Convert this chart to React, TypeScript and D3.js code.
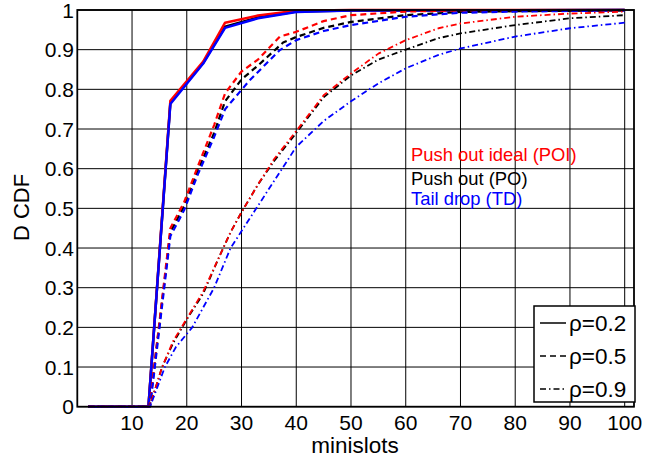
import React from "react";
import * as d3 from "d3";

const xTicks = [10, 20, 30, 40, 50, 60, 70, 80, 90, 100];
const yTicks = [0, 0.1, 0.2, 0.3, 0.4, 0.5, 0.6, 0.7, 0.8, 0.9, 1];
const yTickLabels = ["0", "0.1", "0.2", "0.3", "0.4", "0.5", "0.6", "0.7", "0.8", "0.9", "1"];

// rho = 0.2 (solid)
const poiR02: [number, number][] = [[2, 0], [13, 0], [17, 0.771], [23, 0.87], [27, 0.968], [33, 0.986], [40, 0.998], [50, 1], [100, 1]];
const poR02: [number, number][] = [[2, 0], [13, 0], [17, 0.766], [23, 0.867], [27, 0.958], [33, 0.981], [40, 0.996], [50, 0.999], [100, 1]];
const tdR02: [number, number][] = [[2, 0], [13, 0], [17, 0.763], [23, 0.865], [27, 0.955], [33, 0.979], [40, 0.995], [50, 0.999], [100, 1]];

// rho = 0.5 (dashed)
const poiR05: [number, number][] = [[2, 0], [13.2, 0], [17, 0.45], [19.5, 0.515], [22, 0.605], [25, 0.71], [27, 0.79], [30, 0.845], [33, 0.875], [37, 0.933], [40, 0.945], [45, 0.972], [50, 0.987], [60, 0.996], [70, 0.999], [100, 1]];
const poR05: [number, number][] = [[2, 0], [13.2, 0], [17, 0.44], [19.5, 0.505], [22, 0.595], [25, 0.69], [27, 0.77], [30, 0.825], [33, 0.86], [37.6, 0.918], [40, 0.932], [45, 0.955], [50, 0.97], [60, 0.987], [70, 0.995], [80, 0.997], [100, 0.999]];
const tdR05: [number, number][] = [[2, 0], [13.3, 0], [17, 0.43], [19.5, 0.495], [22, 0.585], [25, 0.68], [27, 0.75], [31.5, 0.823], [37, 0.899], [40, 0.924], [45, 0.947], [50, 0.962], [60, 0.983], [70, 0.993], [80, 0.996], [100, 0.999]];

// rho = 0.9 (dash-dot)
const poiR09: [number, number][] = [[2, 0], [13.2, 0], [15.5, 0.1], [17.5, 0.165], [20, 0.222], [23, 0.29], [26, 0.38], [28, 0.44], [30, 0.49], [33, 0.56], [36, 0.625], [40, 0.695], [45, 0.785], [50, 0.84], [55, 0.89], [60, 0.924], [66, 0.954], [70, 0.966], [80, 0.983], [90, 0.991], [100, 0.996]];
const poR09: [number, number][] = [[2, 0], [13.2, 0], [15.5, 0.1], [17.5, 0.16], [20, 0.22], [23, 0.285], [26, 0.38], [28, 0.44], [30, 0.49], [33, 0.56], [36, 0.62], [40, 0.69], [45, 0.78], [50, 0.835], [55, 0.875], [60, 0.9], [66, 0.929], [70, 0.941], [80, 0.962], [90, 0.979], [100, 0.987]];
const tdR09: [number, number][] = [[2, 0], [13.3, 0], [16, 0.1], [18, 0.15], [21, 0.2], [25, 0.3], [28, 0.4], [32.7, 0.5], [36, 0.57], [40, 0.655], [45, 0.72], [50, 0.77], [55, 0.815], [60, 0.853], [66, 0.887], [70, 0.903], [80, 0.933], [90, 0.954], [100, 0.968]];

const schemeLabels = ["Push out ideal (POI)", "Push out (PO)", "Tail drop (TD)"];
const rhoLabels = ["ρ=0.2", "ρ=0.5", "ρ=0.9"];

const RED = "#ff0000";
const BLACK = "#000000";
const BLUE = "#0000ff";

const styles = [
  { dash: "none", width: 2.5 },
  { dash: "6,4", width: 2.2 },
  { dash: "6,3,1.5,3", width: 1.8 },
];

const series = [
  { data: poR02, color: BLACK, style: 0 },
  { data: poiR02, color: RED, style: 0 },
  { data: tdR02, color: BLUE, style: 0 },
  { data: poR05, color: BLACK, style: 1 },
  { data: poiR05, color: RED, style: 1 },
  { data: tdR05, color: BLUE, style: 1 },
  { data: poR09, color: BLACK, style: 2 },
  { data: poiR09, color: RED, style: 2 },
  { data: tdR09, color: BLUE, style: 2 },
];

const W = 664;
const H = 457;
const left = 77.3;
const right = 634;
const top = 10;
const bottom = 406.7;

export default function App() {
  const x = d3.scaleLinear().domain([0, 101.7]).range([left, right]);
  const y = d3.scaleLinear().domain([0, 1]).range([bottom, top]);
  const line = d3
    .line<[number, number]>()
    .x((d) => x(d[0]))
    .y((d) => y(d[1]));
  const font = "Liberation Sans, Arial, Helvetica, sans-serif";

  return (
    <svg
      width={W}
      height={H}
      style={{ position: "fixed", left: 0, top: 0, background: "#fff" }}
      fontFamily={font}
    >
      <rect x={0} y={0} width={W} height={H} fill="#fff" />
      {xTicks.map((t) => (
        <line key={"gx" + t} x1={x(t)} x2={x(t)} y1={top} y2={bottom} stroke="#000" strokeWidth={1} />
      ))}
      {yTicks.map((t) => (
        <line key={"gy" + t} x1={left} x2={right} y1={y(t)} y2={y(t)} stroke="#000" strokeWidth={1} />
      ))}
      {series.map((s, i) => (
        <path
          key={"s" + i}
          d={line(s.data) || ""}
          fill="none"
          stroke={s.color}
          strokeWidth={styles[s.style].width}
          strokeDasharray={styles[s.style].dash}
          strokeLinejoin="round"
        />
      ))}
      <rect x={left} y={top} width={right - left} height={bottom - top} fill="none" stroke="#000" strokeWidth={1.8} />
      {xTicks.map((t) => (
        <text key={"tx" + t} x={x(t)} y={430} textAnchor="middle" fontSize={21} fill="#000">
          {t}
        </text>
      ))}
      {yTicks.map((t, i) => (
        <text key={"ty" + t} x={74} y={y(t) + 7.5} textAnchor="end" fontSize={21} fill="#000">
          {yTickLabels[i]}
        </text>
      ))}
      <text x={355} y={453} textAnchor="middle" fontSize={22.5} fill="#000">
        minislots
      </text>
      <text
        transform={`translate(29,207.5) rotate(-90)`}
        textAnchor="middle"
        fontSize={22}
        fill="#000"
      >
        D CDF
      </text>
      <text x={411} y={161} fontSize={18.4} fill={RED}>
        {schemeLabels[0]}
      </text>
      <text x={411} y={185} fontSize={18.4} fill={BLACK}>
        {schemeLabels[1]}
      </text>
      <text x={411} y={205} fontSize={18.4} fill={BLUE}>
        {schemeLabels[2]}
      </text>
      <rect x={534} y={306} width={101} height={96} fill="#fff" stroke="#000" strokeWidth={1.5} />
      {rhoLabels.map((lab, i) => {
        const ly = 323 + i * 33;
        return (
          <g key={"lg" + i}>
            <line x1={540} x2={566} y1={ly} y2={ly} stroke="#000" strokeWidth={1.5} strokeDasharray={styles[i].dash} />
            <text x={569} y={ly + 8} fontSize={22.5} fill="#000">
              {lab}
            </text>
          </g>
        );
      })}
    </svg>
  );
}
